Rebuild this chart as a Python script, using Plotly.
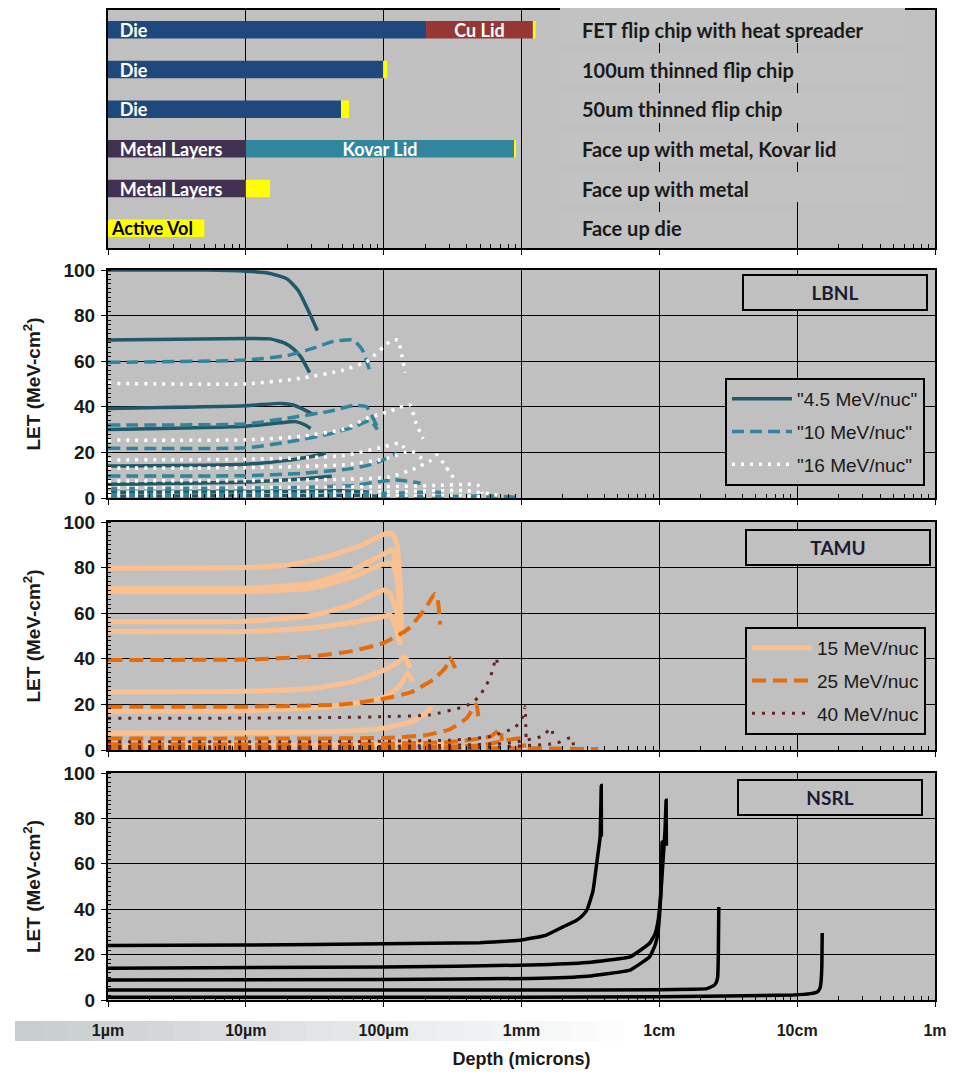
import plotly.graph_objects as go

# ---------------- top panel: device stack-ups (depth in microns) ----------------
rows = ["FET flip chip with heat spreader", "100um thinned flip chip", "50um thinned flip chip",
        "Face up with metal, Kovar lid", "Face up with metal", "Face up die"]
die_start = [1, 1, 1, None, None, None]
die_end = [203, 99, 49, None, None, None]
cu_start = [203, None, None, None, None, None]
cu_end = [1210, None, None, None, None, None]
metal_start = [None, None, None, 1, 1, None]
metal_end = [None, None, None, 10, 10, None]
kovar_start = [None, None, None, 10, None, None]
kovar_end = [None, None, None, 884, None, None]
active_start = [1210, 99, 49, 884, 10, 1]
active_end = [1265, 106, 56, 905, 15, 5]
NB = "\u00a0\u00a0"
die_text = [NB + "Die"] * 3 + [None] * 3
cu_text = ["Cu Lid"] + [None] * 5
metal_text = [None] * 3 + [NB + "Metal Layers"] * 2 + [None]
kovar_text = [None] * 3 + ["Kovar Lid"] + [None] * 2
active_text = [None] * 5 + ["Active Vol"]

# ---------------- LBNL curves (depth um, LET) ----------------
lbnl_45 = [
    ([1, 5, 10, 15, 20, 24, 28, 33], [100, 100, 99.5, 98.5, 96, 91, 83, 73.5]),
    ([1, 10, 15, 19, 22, 25, 29], [69.3, 70, 69.8, 68, 65.5, 62, 55]),
    ([1, 10, 18, 22, 26, 31], [39.3, 40.5, 41.5, 40.8, 39, 36.5]),
    ([1, 10, 18, 23, 27, 29.5], [30, 31.5, 33, 33.5, 32, 30.5]),
    ([1, 10, 20, 30, 38], [14, 14.8, 16.5, 18.2, 19.5]),
    ([1, 10, 25, 42], [6, 7, 8.3, 9.5]),
    ([1, 20, 50, 80], [2.5, 2.8, 3.2, 2.5]),
    ([1, 30, 60, 100], [0.8, 1, 1.2, 0.6]),
]
lbnl_10 = [
    ([1, 10, 20, 30, 43, 60, 70, 80], [59.5, 60.5, 62.5, 65.5, 68.6, 69.3, 65, 55]),
    ([1, 10, 20, 40, 60, 75, 90], [32, 32.5, 35, 38, 40.5, 40, 31]),
    ([1, 10, 20, 40, 60, 80, 90], [21.8, 22, 24.5, 28, 31, 34, 30]),
    ([1, 10, 25, 60, 90, 125], [9.6, 9.8, 10.8, 13, 15.5, 19.7]),
    ([1, 20, 60, 120, 185], [4, 4.5, 5.5, 8, 6.5]),
    ([1, 100, 250, 320], [1.5, 2, 2.5, 1]),
    ([1, 300, 600, 900], [0.5, 0.7, 0.9, 0.3]),
]
lbnl_16 = [
    ([1, 10, 25, 50, 76, 111, 127, 135, 143], [50.3, 50, 52.5, 56, 60, 68.6, 69.3, 63, 55]),
    ([1, 10, 25, 50, 76, 110, 155, 170, 193], [25.4, 25.5, 27, 30, 35, 38, 40.8, 33.5, 26]),
    ([1, 10, 50, 100, 130, 150], [16.7, 17, 18.5, 22.4, 24, 20]),
    ([1, 10, 50, 100, 160, 200], [13.2, 13.3, 14.5, 17, 20.5, 16]),
    ([1, 10, 50, 110, 170, 220, 244, 280, 320], [7.5, 7.6, 8.2, 9.2, 13, 16.5, 18.9, 14, 9]),
    ([1, 10, 100, 250, 400, 480, 520], [4.5, 4.6, 5, 5.5, 6, 5.7, 2]),
    ([1, 100, 400, 700], [2.5, 2.7, 3.2, 1]),
    ([1, 100, 300, 500], [1, 1.1, 1.3, 0.5]),
]

# ---------------- TAMU curves ----------------
tamu_15 = [
    ([1, 10, 20, 40, 70, 100, 115, 125, 130, 134], [79.7, 80, 81, 85, 90, 94.6, 95, 90, 78, 65]),
    ([1, 10, 30, 60, 100, 115, 125, 135], [71, 71, 73, 79, 86, 87.7, 80, 55]),
    ([1, 10, 30, 60, 100, 115, 125, 135], [69.5, 69.5, 71, 76, 81.5, 82, 75, 50]),
    ([1, 10, 30, 60, 100, 110, 125, 132], [56.3, 56.5, 59, 64, 70.2, 69, 60, 47]),
    ([1, 10, 30, 60, 100, 112, 125, 132], [52, 52, 53.5, 56, 58.5, 59.2, 52, 46]),
    ([1, 10, 30, 60, 100, 130, 143, 155], [25.6, 25.8, 27, 30, 35, 39, 40.8, 36]),
    ([1, 10, 40, 100, 130, 150, 163], [17, 17.2, 19, 23, 28, 33.8, 30]),
    ([1, 10, 50, 100, 160, 200, 225], [7.5, 7.6, 8.2, 9.6, 12.5, 16, 19]),
    ([1, 50, 200, 400], [2, 2.2, 3, 1]),
]
tamu_25 = [
    ([1, 10, 30, 60, 100, 150, 200, 235, 245, 257], [39.5, 39.7, 41, 43.5, 47, 53, 62, 68.5, 67, 55]),
    ([1, 10, 50, 100, 160, 230, 280, 303, 330], [19, 19, 20, 22.5, 25.5, 31, 36, 40.4, 36]),
    ([1, 10, 100, 200, 300, 400, 470, 490], [5, 5, 5.3, 6.5, 9, 14, 20, 12]),
    ([1, 50, 300, 600, 700, 720], [2.5, 2.6, 3.5, 6, 9, 4]),
    ([1, 100, 500, 1000, 1050], [1.2, 1.2, 2, 5, 1]),
    ([1, 1000, 3600], [0.5, 0.8, 0.4]),
]
tamu_40 = [
    ([1, 10, 50, 100, 217, 377, 445, 500, 544, 592, 622, 654, 676],
     [13.9, 14, 14.3, 14.6, 15.4, 18.9, 21, 24, 27.6, 31.6, 36, 40.4, 36.4]),
    ([1, 50, 300, 600, 900, 1030, 1060, 1080], [3.6, 3.7, 4.3, 6, 10, 15, 19, 5]),
    ([1, 100, 800, 1400, 1650, 1700], [1.5, 1.6, 3, 6, 9.5, 4]),
    ([1, 500, 1800, 2300, 2400], [0.7, 1, 3, 5.5, 1]),
]

# ---------------- NSRL curves ----------------
nsrl = [
    ([1, 10, 100, 500, 1000, 1500, 2000, 2500, 2800, 3000, 3300, 3540, 3718, 3790, 3800],
     [24, 24.2, 24.8, 25.2, 26.4, 28.5, 32.2, 35, 37.5, 40, 48, 61.7, 71.8, 94.5, 72]),
    ([1, 100, 1160, 3000, 6140, 8500, 9300, 9800, 10200, 10600, 11000, 11200, 11250],
     [14, 14.5, 15.4, 16.5, 19, 25, 29, 35, 45, 60, 75, 88, 68]),
    ([1, 100, 1160, 3000, 6140, 8500, 9300, 9800, 10100, 10300, 10470, 10480],
     [8.8, 9, 9.5, 10.5, 13.2, 19, 24, 30, 40, 50, 69.6, 60]),
    ([1, 1000, 10000, 18000, 22200, 25000, 26000, 26500, 26800, 27000],
     [4.4, 4.4, 4.5, 4.7, 5, 6.5, 8, 10, 20, 41]),
    ([1, 1000, 10000, 93500, 125000, 139700, 146000, 149000, 151000, 152000],
     [1.2, 1.2, 1.4, 2.2, 2.8, 3.5, 5, 8, 15, 29.5]),
]

x_tickvals = [1, 10, 100, 1e3, 1e4, 1e5, 1e6]
x_ticktext = ["1µm", "10µm", "100µm", "1mm", "1cm", "10cm", "1m"]
y_tickvals = [0, 20, 40, 60, 80, 100]

# ---------------- figure (page has an 8px body margin) ----------------
OFF = 8
W, H = 957 - OFF, 1076 - OFF
ML, MR = 108 - OFF, 22
PW = W - ML - MR


def px_x(x):
    return (x - OFF - ML) / PW


def px_y(y):
    return 1 - (y - OFF) / H


BG = "#C0C0C0"
TXT = "#1a1a1a"
fig = go.Figure()

bar_font = dict(family="Lato", size=18, weight="bold")
bars = [
    (die_start, die_end, "#1F497D", die_text, "start", "white"),
    (cu_start, cu_end, "#953735", cu_text, "middle", "white"),
    (metal_start, metal_end, "#403151", metal_text, "start", "white"),
    (kovar_start, kovar_end, "#31859C", kovar_text, "middle", "white"),
    (active_start, active_end, "#FFFF00", active_text, "start", "black"),
]
for st, en, col, txt, anchor, tcol in bars:
    idx = [i for i, s in enumerate(st) if s is not None]
    has_text = [i for i in idx if txt[i]]
    no_text = [i for i in idx if not txt[i]]
    for group, show in ((has_text, True), (no_text, False)):
        if not group:
            continue
        kw = dict(text=[txt[i] for i in group], textposition="inside",
                  insidetextanchor=anchor,
                  textfont=dict(color=tcol, **bar_font)) if show else dict(textposition="none")
        fig.add_trace(go.Bar(
            y=[rows[i] for i in group], x=[en[i] - st[i] for i in group],
            base=[st[i] for i in group], orientation="h", width=0.44,
            marker=dict(color=col, line=dict(width=0)), xaxis="x", yaxis="y",
            showlegend=False, hoverinfo="skip", **kw))


def add_curves(curves, color, width, dash, xa, ya, name, legend=None, smooth=0.5):
    for i, (d, l) in enumerate(curves):
        fig.add_trace(go.Scatter(
            x=d, y=l, mode="lines",
            line=dict(color=color, width=width, dash=dash, shape="spline", smoothing=smooth),
            xaxis=xa, yaxis=ya, name=name, legendgroup=name,
            legend=legend if legend else "legend",
            showlegend=(i == 0 and legend is not None), hoverinfo="skip"))


add_curves(lbnl_45, "#215968", 3.5, "solid", "x2", "y2", '"4.5 MeV/nuc"', "legend")
add_curves(lbnl_10, "#31849B", 3.5, "12px,6px", "x2", "y2", '"10 MeV/nuc"', "legend")
add_curves(lbnl_16, "#FFFFFF", 3.5, "3px,6px", "x2", "y2", '"16 MeV/nuc"', "legend")
add_curves(tamu_15, "#FAC090", 5, "solid", "x3", "y3", "15 MeV/nuc", "legend2")
add_curves(tamu_25, "#E46C0A", 4, "14px,7px", "x3", "y3", "25 MeV/nuc", "legend2")
add_curves(tamu_40, "#632523", 3, "3px,7px", "x3", "y3", "40 MeV/nuc", "legend2")
add_curves(nsrl, "black", 3.5, "solid", "x4", "y4", "NSRL", None, smooth=0.3)

minor_vals = [k * 10 ** e for e in range(0, 6) for k in range(2, 10)]
xcommon = dict(type="log", range=[0, 6], domain=[0, 1], showgrid=True, gridcolor="black",
               gridwidth=1, showline=True, linecolor="black", linewidth=2, mirror=True,
               tickvals=x_tickvals, ticks="outside", ticklen=5, tickcolor="black",
               minor=dict(tickvals=minor_vals, ticks="inside", ticklen=4, tickcolor="black",
                          showgrid=False),
               zeroline=False, showticklabels=False)
ycommon = dict(range=[0, 100], tickvals=y_tickvals, showgrid=True, gridcolor="black", gridwidth=1,
               showline=True, linecolor="black", linewidth=2, mirror=True, ticks="outside",
               ticklen=5, tickcolor="black", ticklabelstandoff=2,
               minor=dict(dtick=2, ticks="inside", ticklen=3, tickcolor="black", showgrid=False),
               tickfont=dict(family="Liberation Sans", size=19, color=TXT, weight="bold"),
               zeroline=False,
               title=dict(text="LET (MeV-cm<sup>2</sup>)", standoff=18,
                          font=dict(family="Liberation Sans", size=19, color=TXT, weight="bold")))

doms = {
    "top": [px_y(248), px_y(10)],
    "lbnl": [px_y(498), px_y(270)],
    "tamu": [px_y(750), px_y(522)],
    "nsrl": [px_y(1000), px_y(773)],
}

leg_common = dict(xanchor="left", yanchor="top", bgcolor=BG, bordercolor="black", borderwidth=2,
                  tracegroupgap=5, itemwidth=60,
                  font=dict(family="Liberation Sans", size=19, color=TXT))

fig.update_layout(
    width=W, height=H, margin=dict(l=ML, r=MR, t=0, b=0, autoexpand=False),
    paper_bgcolor="white", plot_bgcolor=BG, barmode="overlay",
    uniformtext=dict(minsize=18, mode="show"),
    xaxis=dict(xcommon, anchor="y"),
    yaxis=dict(domain=doms["top"], anchor="x", type="category", categoryarray=rows,
               range=[5.5, -0.5], showgrid=False, showline=True, linecolor="black",
               linewidth=2, mirror=True, showticklabels=False, ticks=""),
    xaxis2=dict(xcommon, anchor="y2"),
    yaxis2=dict(ycommon, domain=doms["lbnl"], anchor="x2"),
    xaxis3=dict(xcommon, anchor="y3"),
    yaxis3=dict(ycommon, domain=doms["tamu"], anchor="x3"),
    xaxis4=dict(xcommon, anchor="y4", showticklabels=True, ticktext=x_ticktext,
                ticklabelstandoff=10,
                tickfont=dict(family="Liberation Sans", size=16, color=TXT, weight="bold"),
                title=dict(text="Depth (microns)", standoff=14,
                           font=dict(family="Liberation Sans", size=18, color=TXT, weight="bold"))),
    yaxis4=dict(ycommon, domain=doms["nsrl"], anchor="x4"),
    legend=dict(leg_common, x=px_x(725), y=px_y(378)),
    legend2=dict(leg_common, x=px_x(745), y=px_y(627)),
)

# right-hand label boxes in the top panel
shapes = []
centers = [30, 70, 110, 149, 189, 229]
for i, c in enumerate(centers):
    y0 = OFF if i == 0 else c - 17
    y1 = 248 if i == 5 else c + 13
    x1 = 792 if i == 5 else 905
    shapes.append(dict(type="rect", xref="paper", yref="paper", x0=px_x(560), x1=px_x(x1),
                       y0=px_y(y1), y1=px_y(y0), fillcolor="#C2C2C2", line=dict(width=0),
                       layer="above"))
# faded band behind x tick labels
n = 24
for k in range(n):
    x0 = 15 + k * (650 - 15) / n
    x1 = 15 + (k + 1) * (650 - 15) / n
    t = k / (n - 1)
    r = int(200 + (255 - 200) * t)
    g = int(205 + (255 - 205) * t)
    b = int(208 + (255 - 208) * t)
    shapes.append(dict(type="rect", xref="paper", yref="paper", x0=px_x(x0), x1=px_x(x1) + 0.001,
                       y0=px_y(1041), y1=px_y(1021), fillcolor=f"rgb({r},{g},{b})",
                       line=dict(width=0), layer="below"))
fig.update_layout(shapes=shapes)

annotations = []
for i, r in enumerate(rows):
    annotations.append(dict(text=r, x=px_x(580), xref="paper", y=i, yref="y", xanchor="left",
                            yanchor="middle", showarrow=False,
                            font=dict(family="Lato", size=20, color=TXT, weight="bold")))
for label, cx, cy in [("LBNL", 835, 292.5), ("TAMU", 837.5, 547), ("NSRL", 830, 797)]:
    annotations.append(dict(text=label, x=px_x(cx), y=px_y(cy), xref="paper", yref="paper",
                            xanchor="center", yanchor="middle", showarrow=False,
                            width=180, height=31, bgcolor=BG, bordercolor="black",
                            borderwidth=2, borderpad=1,
                            font=dict(family="Lato", size=19, color="#1B1B33", weight="bold")))
fig.update_layout(annotations=annotations)

fig.write_html("out.html")
